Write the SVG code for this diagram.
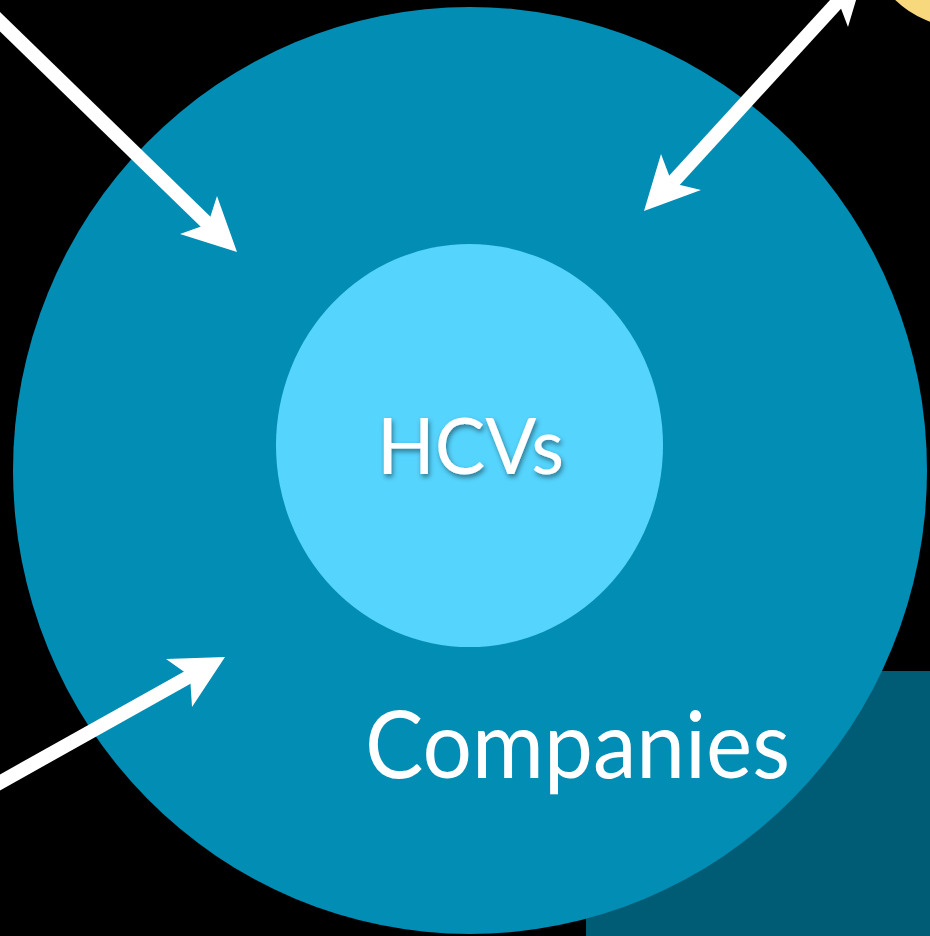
<svg xmlns="http://www.w3.org/2000/svg" width="930" height="936" viewBox="0 0 930 936">
<defs>
<style>
.lbl{font-family:"Lato","Noto Sans","Liberation Sans",sans-serif;fill:#ffffff;}
.shaft{stroke:#ffffff;stroke-width:14;fill:none;}
.head{fill:#ffffff;}
</style>
<filter id="sh" x="-20%" y="-40%" width="140%" height="180%">
<feDropShadow dx="1.5" dy="3" stdDeviation="2.5" flood-color="#000000" flood-opacity="0.45"/>
</filter>
</defs>
<rect x="0" y="0" width="930" height="936" fill="#000000"/>
<g id="yellow">
<circle cx="965" cy="-73" r="101" fill="#f7d87c"/>
</g>
<g id="panel">
<rect x="586" y="671" width="344" height="265" fill="#005b75"/>
</g>
<g id="companies">
<ellipse cx="470" cy="470.5" rx="457" ry="463.5" fill="#028db4"/>
<text class="lbl" x="365" y="778" font-size="94" textLength="425" lengthAdjust="spacingAndGlyphs">Companies</text>
</g>
<g id="hcvs">
<ellipse cx="469.5" cy="445.5" rx="193.5" ry="201.5" fill="#55d4fd"/>
<text class="lbl" x="377" y="474" font-size="77" textLength="187" lengthAdjust="spacingAndGlyphs" filter="url(#sh)">HCVs</text>
</g>
<g id="connectors">
<line class="shaft" x1="-10" y1="12" x2="210" y2="226"/>
<polygon class="head" points="237,252 180,234 208,224 217,196"/>
<line class="shaft" x1="-10" y1="788" x2="192" y2="675"/>
<polygon class="head" points="225,657 166,659 190,676 192,707"/>
<line class="shaft" x1="672" y1="183" x2="845" y2="-6"/>
<polygon class="head" points="644,211 661,154 672,183 701,190"/>
<polygon class="head" points="865,-30 848,27 837,-2 808,-9"/>
</g>
</svg>
